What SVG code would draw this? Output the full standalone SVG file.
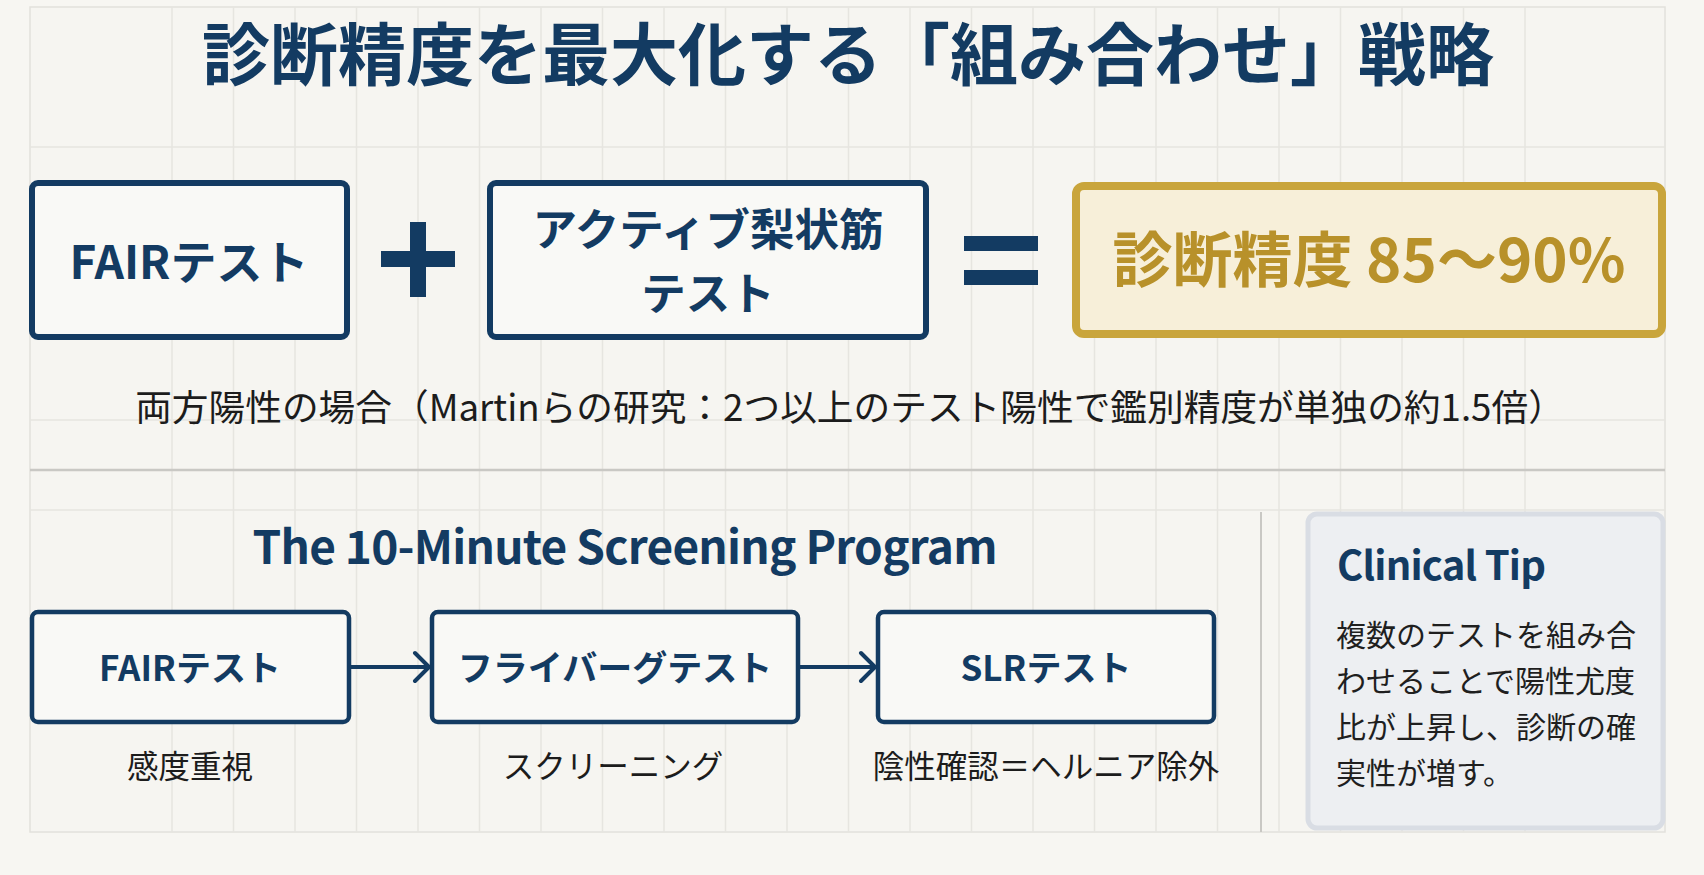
<svg xmlns="http://www.w3.org/2000/svg" width="1704" height="875" viewBox="0 0 1704 875">
<style>
text{font-family:"Noto Sans CJK JP","Noto Sans",sans-serif}
.navy{fill:#133b62}
.t-title{font-size:68px;font-weight:700}
.box{fill:#f9f9f6;stroke:#133b62}
.big{stroke-width:6}
.small{stroke-width:4.5}
.bt{font-weight:700;fill:#133b62;text-anchor:middle}
.lbl{font-size:31.5px;fill:#1c1c1c;text-anchor:middle}
.grid{stroke:#e6e5e0;stroke-width:1.5}
.conn{stroke:#133b62;stroke-width:4;fill:none}
.body{font-size:30px;fill:#1f1f1f}
</style>
<defs>
<marker id="chev" viewBox="0 0 20 34" refX="18" refY="17" markerWidth="20" markerHeight="34" markerUnits="userSpaceOnUse" orient="auto">
<path d="M4,3 L18,17 L4,31" fill="none" stroke="#133b62" stroke-width="4" stroke-linecap="round" stroke-linejoin="round"/>
</marker>
</defs>
<rect x="0" y="0" width="1704" height="875" fill="#f7f6f2"/>
<g id="grid">
<rect x="30" y="7" width="1635" height="825" fill="#f6f5f1" stroke="#e2e1dc" stroke-width="1.5"/>
<path class="grid" d="M172,7V832M233.5,7V832M295,7V832M356.5,7V832M418,7V832M479.5,7V832M541,7V832M602.5,7V832M664,7V832M725.5,7V832M787,7V832M848.5,7V832M910,7V832M971.5,7V832M1033,7V832M1094.5,7V832M1156,7V832M1217.5,7V832M1279,7V832M1340.5,7V832M1402,7V832M1463.5,7V832M1525,7V832M30,147H1665M30,420H1665M30,510H1665"/>
<line x1="30" y1="470" x2="1665" y2="470" stroke="#c9c8c4" stroke-width="2.5"/>
<line x1="1261" y1="512" x2="1261" y2="832" stroke="#c9c8c4" stroke-width="2"/>
</g>
<g id="title">
<text class="navy t-title" x="848" y="80" text-anchor="middle">診断精度を最大化する「組み合わせ」戦略</text>
</g>
<g id="fair-top">
<rect class="box big" x="32" y="183" width="315" height="154" rx="6"/>
<text class="bt" x="189" y="279" font-size="46">FAIRテスト</text>
</g>
<g id="plus">
<rect x="381" y="251" width="74" height="16" fill="#133b62"/>
<rect x="410" y="222" width="16" height="75" fill="#133b62"/>
</g>
<g id="piriformis">
<rect class="box big" x="490" y="183" width="436" height="154" rx="6"/>
<text class="bt" x="708" y="246" font-size="44.5">アクティブ梨状筋</text>
<text class="bt" x="708" y="310" font-size="44.5">テスト</text>
</g>
<g id="equals">
<rect x="964" y="236" width="74" height="15" fill="#133b62"/>
<rect x="964" y="270" width="74" height="15" fill="#133b62"/>
</g>
<g id="accuracy">
<rect x="1076" y="186" width="586" height="148" rx="8" fill="#f7efd9" stroke="#c9a53c" stroke-width="8"/>
<text x="1369" y="282" font-size="60" font-weight="700" fill="#b8912a" text-anchor="middle">診断精度 85〜90%</text>
</g>
<g id="note">
<text x="850" y="421" font-size="36.7" fill="#1c1c1c" text-anchor="middle">両方陽性の場合（Martinらの研究：2つ以上のテスト陽性で鑑別精度が単独の約1.5倍）</text>
</g>
<g id="program-title">
<text x="625" y="564" font-size="46" font-weight="700" fill="#133b62" text-anchor="middle" textLength="745">The 10-Minute Screening Program</text>
</g>
<g id="step-fair">
<rect class="box small" x="32" y="612" width="317" height="110" rx="6"/>
<text class="bt" x="190" y="681" font-size="35">FAIRテスト</text>
<text class="lbl" x="190" y="778">感度重視</text>
</g>
<g id="step-freiberg">
<rect class="box small" x="432" y="612" width="366" height="110" rx="6"/>
<text class="bt" x="615" y="681" font-size="35">フライバーグテスト</text>
<text class="lbl" x="613" y="778">スクリーニング</text>
</g>
<g id="step-slr">
<rect class="box small" x="878" y="612" width="336" height="110" rx="6"/>
<text class="bt" x="1046" y="681" font-size="35">SLRテスト</text>
<text class="lbl" x="1046" y="778">陰性確認＝ヘルニア除外</text>
</g>
<g id="connectors">
<line class="conn" x1="351" y1="667" x2="429" y2="667" marker-end="url(#chev)"/>
<line class="conn" x1="800" y1="667" x2="875" y2="667" marker-end="url(#chev)"/>
</g>
<g id="clinical-tip">
<rect x="1308" y="514" width="355" height="314" rx="9" fill="#edeff2" stroke="#d9dde4" stroke-width="5"/>
<text x="1337" y="580" font-size="40" font-weight="700" fill="#133b62" textLength="209">Clinical Tip</text>
<text class="body" x="1336" y="646">複数のテストを組み合</text>
<text class="body" x="1336" y="692">わせることで陽性尤度</text>
<text class="body" x="1336" y="738">比が上昇し、診断の確</text>
<text class="body" x="1336" y="784">実性が増す。</text>
</g>
</svg>
